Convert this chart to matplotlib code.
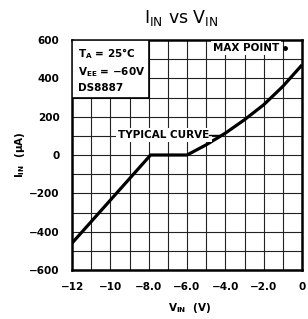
import matplotlib.pyplot as plt
import numpy as np

plt.rcParams['font.family'] = 'DejaVu Sans'
plt.rcParams['font.weight'] = 'bold'
plt.rcParams['mathtext.default'] = 'bf'

# ── data ─────────────────────────────────────────────────────────────────────
v_in = [-12, -7.9, -6.0, -5.0, -4.0, -3.0, -2.0, -1.0, 0.0]
i_in = [-460, 0, 0, 53, 114, 184, 262, 358, 470]
max_point_v = [-0.9]
max_point_i = [560]

x_ticks = [-12, -10, -8, -6, -4, -2, 0]
x_labels = ['−12', '−10', '−8.0', '−6.0', '−4.0', '−2.0', '0']
y_ticks = [-600, -400, -200, 0, 200, 400, 600]
y_labels = ['−600', '−400', '−200', '0', '200', '400', '600']

fig = plt.figure(figsize=(3.08, 3.19), dpi=100)
fig.patch.set_facecolor('white')
ax = fig.add_axes([72/308, 49/319, 230/308, 230/319])
ax.set_xlim(-12, 0)
ax.set_ylim(-600, 600)

# ── grid: 1 V by 100 uA ──────────────────────────────────────────────────────
for gx in np.arange(-11, 0, 1):
    ax.axvline(gx, color='#222222', lw=0.8, zorder=1)
for gy in np.arange(-500, 600, 100):
    ax.axhline(gy, color='#222222', lw=0.8, zorder=1)

for s in ax.spines.values():
    s.set_linewidth(1.8)

ax.set_xticks(x_ticks)
ax.set_xticklabels(x_labels)
ax.set_yticks(y_ticks)
ax.set_yticklabels(y_labels)
ax.tick_params(length=0, pad=9, labelsize=7.5)
for lab in ax.get_xticklabels() + ax.get_yticklabels():
    lab.set_fontweight('bold')

# ── curve ────────────────────────────────────────────────────────────────────
ax.plot(v_in, i_in, color='black', lw=2.3, zorder=4, solid_capstyle='butt')
ax.plot(max_point_v, max_point_i, 'o', color='black', ms=2.5, zorder=6)

# ── conditions box ───────────────────────────────────────────────────────────
ax.add_patch(plt.Rectangle((-12, 300), 4, 300, facecolor='white',
                           edgecolor='black', lw=1.2, zorder=3))
ax.text(-11.7, 530, r'$T_A$ = 25°C', fontsize=7.5, fontweight='bold',
        va='center', zorder=5)
ax.text(-11.7, 432, r'$V_{EE}$ = −60V', fontsize=7.5, fontweight='bold',
        va='center', zorder=5)
ax.text(-11.7, 350, 'DS8887', fontsize=7.5, fontweight='bold',
        va='center', zorder=5)

ax.text(-1.2, 560, 'MAX POINT', fontsize=7.5, fontweight='bold',
        ha='right', va='center', zorder=5,
        bbox=dict(facecolor='white', edgecolor='none', pad=1.5))

ax.text(-7.2, 103, 'TYPICAL CURVE', fontsize=7.5, fontweight='bold',
        ha='center', va='center', zorder=5,
        bbox=dict(facecolor='white', edgecolor='none', pad=1.5))
ax.plot([-4.85, -4.15], [103, 103], color='black', lw=1.0, zorder=5)

# ── titles ───────────────────────────────────────────────────────────────────
fig.text(0.588, 0.945, r'$\mathregular{I_{IN}}$ vs $\mathregular{V_{IN}}$',
         ha='center', va='center', fontsize=12.5, fontweight='normal')
fig.text(0.065, 0.514, r'$I_{IN}$  ($\mu$A)', rotation=90,
         ha='center', va='center', fontsize=7.5, fontweight='bold')
fig.text(0.614, 0.034, r'$V_{IN}$  (V)', ha='center', va='center',
         fontsize=7.5, fontweight='bold')

fig.savefig('out.png', dpi=100, facecolor='white')
